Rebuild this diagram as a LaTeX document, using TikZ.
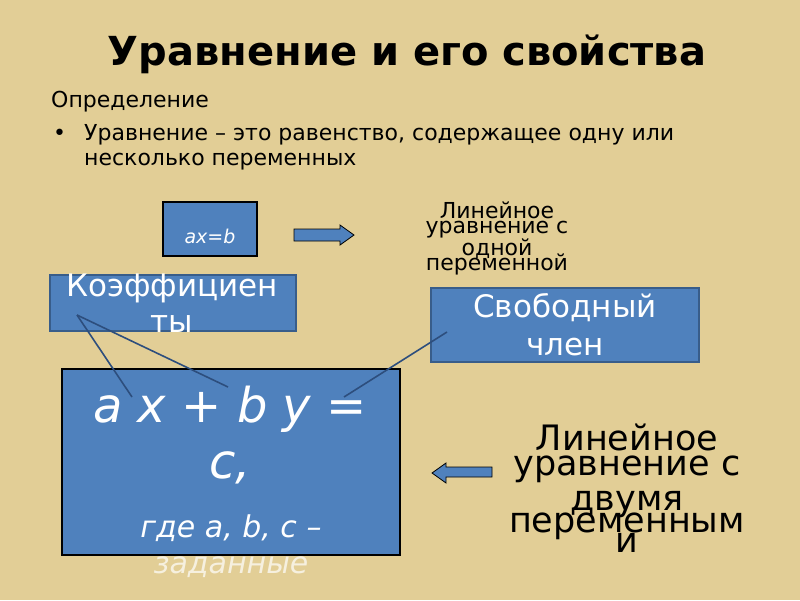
\documentclass[tikz,border=0pt]{standalone}
\usepackage{fontspec}
\setmainfont{DejaVu Sans}
\usetikzlibrary{
	positioning
}
\definecolor{parchment}{RGB}{226,206,150}
\definecolor{boxblue}{RGB}{79,129,189}
\definecolor{boxedge}{RGB}{56,93,138}
\definecolor{linkblue}{RGB}{45,78,125}
\tikzset{
	plate/.style={
		rectangle
		,fill=boxblue
		,draw=boxedge
		,line width=2pt
		,inner sep=0pt
	},
	black plate/.style={
		plate
		,draw=black
		,line width=1.5pt
	},
	line text/.style={
		anchor=base
		,inner sep=0pt
	},
	link/.style={
		draw=linkblue
		,line width=1.6pt
	},
	block arrow/.style={
		fill=boxblue
		,draw=black
		,line width=0.8pt
		,line join=miter
	}
}
\newcommand{\fsz}[1]{\fontsize{#1}{#1}\selectfont}

\begin{document}
\begin{tikzpicture}[x=1pt, y=-1pt]
\fill[parchment] (0,0) rectangle (800,600);
\useasboundingbox (0,0) rectangle (800,600);

% heading and definition
\node[line text, font=\fsz{40}\bfseries] (title) at (407,65) {Уравнение и его свойства};
\node[line text, anchor=base west, font=\fsz{22}] (def) at (51,107) {Определение};
\node[line text, anchor=base west, font=\fsz{22}] (dot) at (53,140) {•};
\node[line text, anchor=base west, font=\fsz{22}] (def1) at (84,140) {Уравнение – это равенство, содержащее одну или};
\node[line text, anchor=base west, font=\fsz{22}] (def2) at (84,165) {несколько переменных};

% boxes
\node[black plate, minimum width=94, minimum height=54] (axb) at (210,229) {};
\node[plate, minimum width=246, minimum height=56] (coef) at (173,303) {};
\node[plate, minimum width=268, minimum height=74] (free) at (565,325) {};
\node[black plate, minimum width=338, minimum height=186] (main) at (231,462) {};

% texts on the boxes
\begin{scope}[every node/.append style={line text, text=white}]
\node[font=\fsz{19}\itshape] (axbt) at (210,243) {ax=b};
\node[font=\fsz{31}] (coef1) at (172,296) {Коэффициен};
\node[font=\fsz{31}] (coef2) at (172,332) {ты};
\node[font=\fsz{31}] (free1) at (565,317) {Свободный};
\node[font=\fsz{31}] (free2) at (565,355) {член};
\node[font=\fsz{48}\itshape] (eq1) at (230,422) {a x + b y =};
\node[font=\fsz{48}\itshape] (eq2) at (230,478) {c,};
\node[font=\fsz{30}\itshape] (eq3) at (231,537) {где a, b, c –};
\node[font=\fsz{30}\itshape, text=white!70!parchment] (eq4) at (231,573) {заданные};
\end{scope}

% block arrows
\draw[block arrow] (294,229) -- (340,229) -- (340,225) -- (354,235) -- (340,245)
	-- (340,241) -- (294,241) -- cycle;
\draw[block arrow] (492,467) -- (446,467) -- (446,463) -- (432,473) -- (446,483)
	-- (446,477) -- (492,477) -- cycle;

% captions
\foreach \txt/\y [count=\i] in {Линейное/218, уравнение с/233, одной/255, переменной/270}{
	\node[line text, font=\fsz{22}] (one\i) at (497,\y) {\txt};
}
\foreach \txt/\y [count=\i] in {Линейное/450, уравнение с/475, двумя/510, переменным/532, и/552}{
	\node[line text, font=\fsz{35}] (two\i) at (627,\y) {\txt};
}

% pointers
\coordinate (pc) at (77,315);
\coordinate (pa) at (132,397);
\coordinate (pb) at (228,387);
\coordinate (pf) at (447,332);
\coordinate (pe) at (344,397);
\foreach \x/\y in {pc/pa, pc/pb, pf/pe}{
	\draw[link] (\x) -- (\y);
}
\end{tikzpicture}
\end{document}
